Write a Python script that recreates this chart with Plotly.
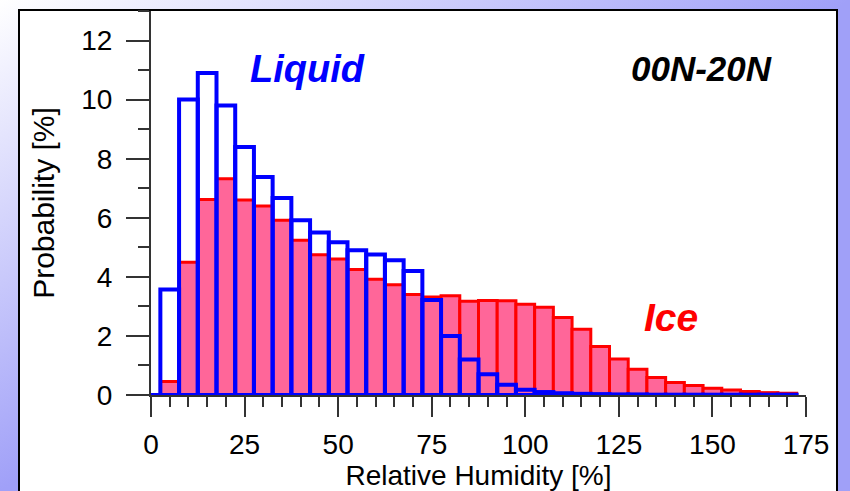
import base64
import plotly.graph_objects as go

# Relative humidity bin centres (5 % bins)
rh_bins = list(range(0, 175, 5))

# Probability [%] of each RH bin for liquid and ice clouds, 00N-20N
liquid_prob = [0.0, 3.57, 10.0, 10.9, 9.8, 8.4, 7.38, 6.67, 5.92, 5.5,
               5.17, 4.9, 4.76, 4.56, 4.2, 3.22, 2.0, 1.2, 0.7, 0.35,
               0.18, 0.1, 0.06, 0.04, 0.03, 0.02, 0.02, 0.01, 0.01, 0.01,
               0.01, 0.01, 0.01, 0.01, 0.01]
ice_prob = [0.0, 0.46, 4.49, 6.62, 7.32, 6.6, 6.4, 5.92, 5.24, 4.75,
            4.6, 4.25, 3.92, 3.73, 3.4, 3.32, 3.36, 3.17, 3.2, 3.19,
            3.07, 2.97, 2.62, 2.23, 1.64, 1.22, 0.87, 0.59, 0.42, 0.32,
            0.23, 0.17, 0.12, 0.08, 0.06]

x_ticks = [0, 25, 50, 75, 100, 125, 150, 175]
y_ticks = [0, 2, 4, 6, 8, 10, 12]

W, H = 850, 491
L, R, T, B = 151, 44, 11, 96
pw, ph = W - L - R, H - T - B

FONT = "Liberation Sans, Arial, sans-serif"
AX = "#333333"

fig = go.Figure()

fig.add_trace(go.Bar(
    x=rh_bins, y=ice_prob, width=5, name="Ice",
    marker=dict(color="#ff6699", line=dict(color="#ff0000", width=3)),
))
fig.add_trace(go.Bar(
    x=rh_bins, y=liquid_prob, width=5, name="Liquid",
    marker=dict(color="rgba(0,0,0,0)", line=dict(color="#0000ff", width=4)),
))

# soft diagonal lavender backdrop behind the white panel
svg = (
    f'<svg xmlns="http://www.w3.org/2000/svg" width="{W}" height="{H}" '
    f'viewBox="0 0 {W} {H}" preserveAspectRatio="none">'
    '<defs><linearGradient id="g" x1="0" y1="0" x2="0.5" y2="0.5">'
    '<stop offset="0" stop-color="#ffffff"/>'
    '<stop offset="1" stop-color="#a0a0f8"/></linearGradient></defs>'
    f'<rect width="{W}" height="{H}" fill="url(#g)"/></svg>'
)
bg_uri = "data:image/svg+xml;base64," + base64.b64encode(svg.encode()).decode()

fig.add_layout_image(dict(
    source=bg_uri, xref="paper", yref="paper",
    x=-L / pw, y=1 + T / ph, sizex=W / pw, sizey=H / ph,
    xanchor="left", yanchor="top", sizing="stretch", layer="below",
))

# white panel with a black frame
fig.add_shape(type="rect", xref="paper", yref="paper",
              x0=(19 - L) / pw, x1=(837 - L) / pw,
              y0=-(H + 20 - ph - T) / ph, y1=1 + 1 / ph,
              fillcolor="white", line=dict(color="black", width=2),
              layer="below")

tick_font = dict(family=FONT, size=28, color="black")

fig.update_layout(
    width=W, height=H,
    margin=dict(l=L, r=R, t=T, b=B, pad=0, autoexpand=False),
    paper_bgcolor="#d0d0fa",
    plot_bgcolor="white",
    barmode="overlay",
    showlegend=False,
    xaxis=dict(
        range=[0, 175], tickvals=x_ticks, ticks="outside", ticklen=20,
        tickwidth=1.5, tickcolor=AX, showline=True, linewidth=2,
        linecolor=AX, showgrid=False, zeroline=False, tickfont=tick_font,
        ticklabelstandoff=3, automargin=False,
        minor=dict(dtick=5, ticks="outside", ticklen=10, tickwidth=1.5,
                   tickcolor=AX, showgrid=False),
        title=dict(text="Relative Humidity [%]", standoff=8,
                   font=dict(family=FONT, size=28, color="black")),
    ),
    xaxis2=dict(
        range=[0, 175], overlaying="x", side="top", anchor="y",
        tickvals=x_ticks, ticks="inside", ticklen=22, tickwidth=1.5,
        tickcolor=AX, showline=True, linewidth=2, linecolor=AX,
        showticklabels=False, showgrid=False, zeroline=False,
        automargin=False,
        minor=dict(dtick=5, ticks="inside", ticklen=10, tickwidth=1.5,
                   tickcolor=AX, showgrid=False),
    ),
    yaxis=dict(
        range=[0, 13], tickvals=y_ticks, ticks="outside", ticklen=23,
        tickwidth=1.5, tickcolor=AX, showline=True, linewidth=2,
        linecolor=AX, showgrid=False, zeroline=False, tickfont=tick_font,
        ticklabelstandoff=8, automargin=False,
        minor=dict(dtick=1, ticks="outside", ticklen=11, tickwidth=1.5,
                   tickcolor=AX, showgrid=False),
        title=dict(text="Probability [%]", standoff=18,
                   font=dict(family=FONT, size=30, color="black")),
    ),
    yaxis2=dict(
        range=[0, 13], overlaying="y", side="right", anchor="x",
        tickvals=y_ticks, ticks="inside", ticklen=23, tickwidth=1.5,
        tickcolor=AX, showline=True, linewidth=2, linecolor=AX,
        showticklabels=False, showgrid=False, zeroline=False,
        automargin=False,
        minor=dict(dtick=1, ticks="inside", ticklen=11, tickwidth=1.5,
                   tickcolor=AX, showgrid=False),
    ),
)

fig.add_annotation(x=41.7, y=11.05, xref="x", yref="y", showarrow=False,
                   text="<b><i>Liquid</i></b>",
                   font=dict(family=FONT, size=38, color="#0000ff"))
fig.add_annotation(x=166.4, y=11.05, xref="x", yref="y", showarrow=False,
                   xanchor="right", text="<b><i>00N-20N</i></b>",
                   font=dict(family=FONT, size=35, color="black"))
fig.add_annotation(x=138.9, y=2.62, xref="x", yref="y", showarrow=False,
                   text="<b><i>Ice</i></b>",
                   font=dict(family=FONT, size=39, color="#ff0000"))

fig.write_html("out.html")
